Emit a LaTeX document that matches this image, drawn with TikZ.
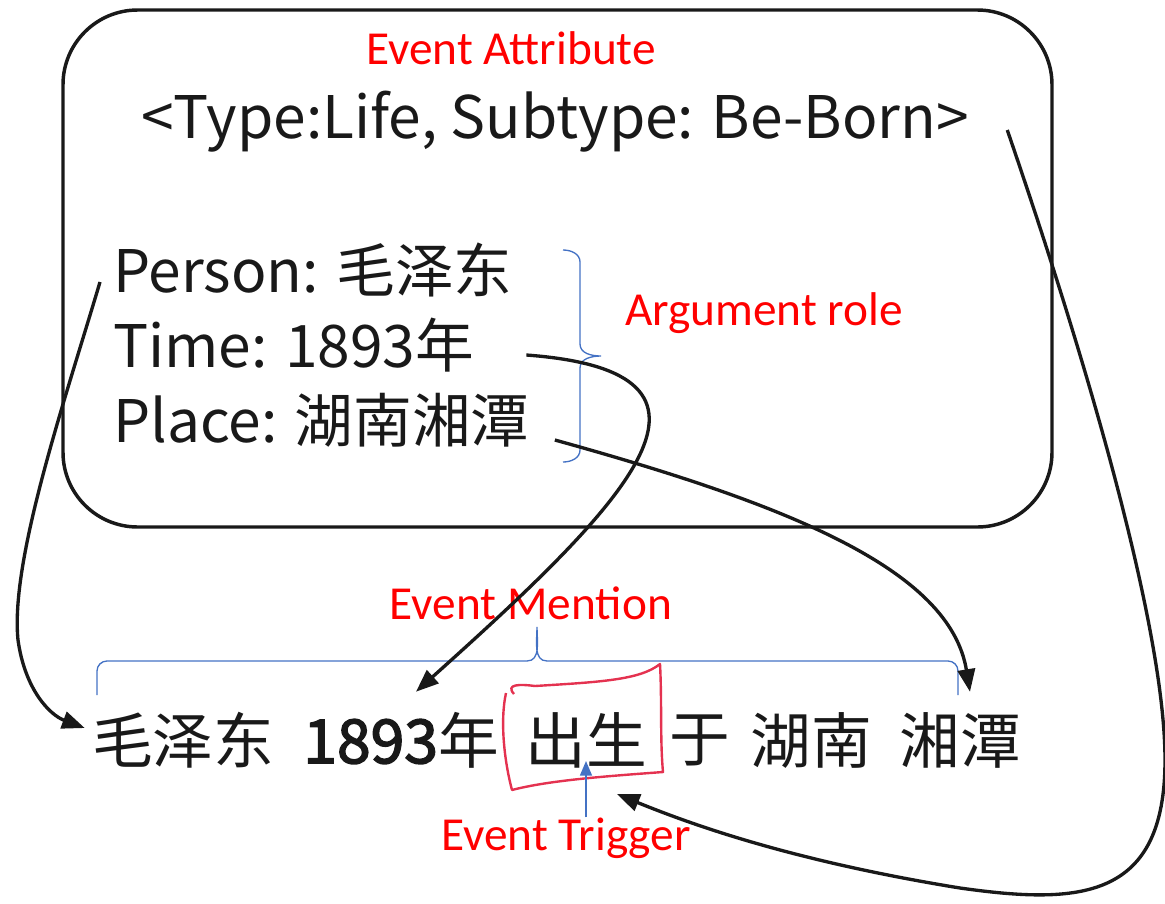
\documentclass[tikz,border=0pt]{standalone}
\usepackage{fontspec}
\setmainfont{Noto Sans CJK SC}
\newfontfamily\lblfont{Carlito}
\newfontfamily\numfont[FakeBold=2.5]{Noto Sans CJK SC}
\usetikzlibrary{arrows.meta,calc}
\definecolor{lblred}{RGB}{255,0,0}
\definecolor{brblue}{RGB}{68,114,196}
\definecolor{trigred}{RGB}{228,50,80}
\definecolor{ink}{RGB}{25,25,25}
\begin{document}
\begin{tikzpicture}[x=0.75pt,y=-0.75pt,
  lbl/.style={text=lblred,font=\lblfont\fontsize{35.5}{40}\selectfont,inner sep=0},
  txt/.style={font=\fontsize{44}{50}\selectfont,inner sep=0,text=ink},
  word/.style={font=\fontsize{45.5}{50}\selectfont,inner sep=0,text=ink},
  conn/.style={draw=ink,line width=2.5pt,-{Triangle[length=17pt,width=13pt]}},
  brc/.style={draw=brblue,line width=1pt},
]
\useasboundingbox (0,0) rectangle (1165,904);
% main box
\node[draw=ink,line width=2.6pt,rounded corners=56pt,minimum width=741.75pt,minimum height=387.75pt,inner sep=0] (box) at (557.5,268.5) {};
% labels
\node[lbl] (attr) at (511,48) {Event Attribute};
\node[txt] (type) at (555,122) {<Type:Life, Subtype: Be-Born>};
\node[txt,anchor=west] (person) at (113,270) {Person: 毛泽东};
\node[txt,anchor=west] (time) at (113,345) {Time: 1893年};
\node[txt,anchor=west] (place) at (113,420) {Place: 湖南湘潭};
\node[lbl] (arg) at (764,313) {Argument role};
\node[lbl] (ment) at (531,603) {Event Mention};
\node[lbl] (trig) at (566,838) {Event Trigger};
% sentence
\node[word] (w1) at (183,740) {毛泽东};
\node[word] (w2) at (401,740) {{\numfont 1893}年};
\node[word] (w3) at (586,740) {出生};
\node[word] (w4) at (700,740) {于};
\node[word] (w5) at (811,740) {湖南};
\node[word] (w6) at (960,740) {湘潭};
% argument brace
\draw[brc] (563,250) to[out=0,in=90] (580,262) -- (580,344) to[out=-90,in=180] (601,356)
  to[out=180,in=90] (580,368) -- (580,450) to[out=-90,in=0] (563,462);
% mention brace
\draw[brc] (97,695) -- (97,671) to[out=90,in=180] (107,661) -- (527,661) to[out=0,in=-90] (537,627)
  to[out=-90,in=180] (547,661) -- (948,661) to[out=0,in=90] (958,671) -- (958,695);
% trigger highlight
\draw[trigred,line width=1.8pt,line join=round] (514,694) .. controls (505,684) and (520,684) .. (535,686)
  .. controls (600,682) and (640,680) .. (660,664) .. controls (662,700) and (660,740) .. (663,772)
  .. controls (610,776) and (550,780) .. (512,790) .. controls (504,760) and (500,720) .. (506,693);
\draw[brblue,line width=1.2pt,-{Triangle[length=11pt,width=9pt]}] (trig.north -| w3) -- ($(w3.center)+(0,21)$);
% arrows
\draw[conn] ($(person.west)+(-13,12)$) .. controls (65,400) and (10,560) .. (18,640)
  .. controls (25,690) and (50,715) .. ($(w1.west)+(-7,-12)$);
\draw[conn] ($(time.east)+(52,10)$) .. controls (755,372) and (630,500) .. ($(w2.north)+(15,-20)$);
\draw[conn] ($(place.east)+(25,20)$) .. controls (790,505) and (950,570) .. ($(w6.north)+(10,-20)$);
\draw[conn] ($(type.east)+(38,8)$) .. controls (1100,400) and (1165,640) .. (1165,760)
  .. controls (1165,900) and (1080,905) .. (960,888)
  .. controls (800,862) and (700,828) .. ($(w3.south)+(31,26)$);
\end{tikzpicture}
\end{document}
